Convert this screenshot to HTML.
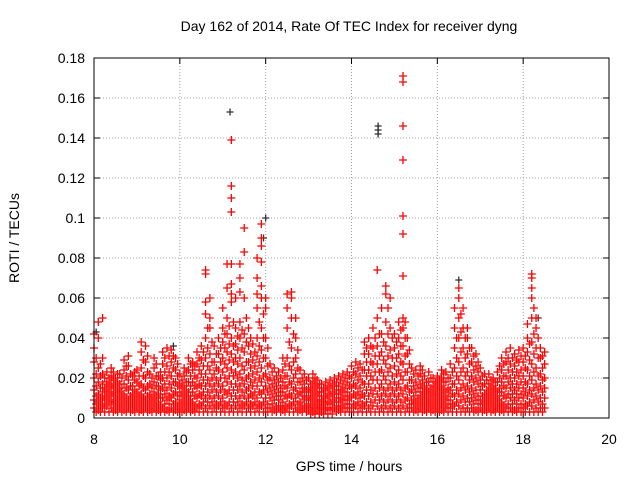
<!DOCTYPE html>
<html>
<head>
<meta charset="utf-8">
<style>
html,body{margin:0;padding:0;background:#fff;}
svg{display:block;font-family:"Liberation Sans",Arial,sans-serif;}
</style>
</head>
<body>
<svg id="chart" width="640" height="480" viewBox="0 0 640 480">
<rect x="0" y="0" width="640" height="480" fill="#fff"/>
<text x="349" y="31" font-size="14" text-anchor="middle" fill="#000">Day 162 of 2014, Rate Of TEC Index for receiver dyng</text>
<text x="349" y="471" font-size="14" text-anchor="middle" fill="#000">GPS time / hours</text>
<text x="19" y="238" font-size="14" text-anchor="middle" fill="#000" transform="rotate(-90 19 238)">ROTI / TECUs</text>
<g id="grid"></g>
<g id="ticks"></g>
<g id="marks"></g>
<rect x="94" y="58" width="515" height="360" fill="none" stroke="#000" stroke-width="1"/>
</svg>
<script>
const xTicks = [8,10,12,14,16,18,20];
const yTicks = [0,0.02,0.04,0.06,0.08,0.1,0.12,0.14,0.16,0.18];
const yTickLabels = ["0","0.02","0.04","0.06","0.08","0.1","0.12","0.14","0.16","0.18"];
// ROTI values (x 0.001 TECU/min) per time column (hours)
const redColumns = [
"8.0:5 9 14 20 28 35 42","8.1:4 8 12 18 25 40 48","8.2:5 9 13 17 22 30 50","8.3:6 10 14 18 23",
"8.4:5 9 13 17 21 25","8.5:4 8 12 16 20","8.6:5 9 13 17 22","8.7:4 8 12 17 24 29",
"8.8:5 9 14 19 26 31","8.9:4 8 12 16 21","9.0:5 9 13 18 24","9.1:4 8 12 17 25 33 38",
"9.2:5 9 14 20 28 36","9.3:4 8 12 17 22","9.4:5 9 13 18 25 30","9.5:4 8 12 16 21",
"9.6:5 10 15 20 27 33","9.7:4 9 14 20 26 35","9.8:5 10 15 21 28 34","9.9:4 8 13 18 24 30",
"10.0:5 9 13 17 22","10.1:4 8 12 16 21 25","10.2:5 9 13 18 24 30","10.3:4 8 13 18 24 28",
"10.4:5 10 15 20 27 33","10.5:6 11 16 22 29 36","10.6:5 10 16 22 30 40 52 58 72 74",
"10.7:6 11 17 24 32 45 50 60","10.8:5 10 16 22 28 36","10.9:6 11 17 24 32 40",
"11.0:5 10 16 23 30 38 45 55","11.1:6 12 18 25 33 42 50 65 77",
"11.2:5 11 17 24 32 40 58 62 67 77 103 110 116 139","11.3:6 11 17 23 30 37 45 60",
"11.4:5 10 16 22 30 40 48 63 70 77","11.5:6 11 17 24 33 42 60 83 95","11.6:5 10 15 21 28 36 45",
"11.7:6 11 16 22 29 37","11.8:5 10 16 23 31 40 55 62 70 80","11.9:6 12 18 25 34 45 60 66 78 86 90 97",
"12.0:5 10 16 22 30 40 55 60","12.1:5 10 15 20 27","12.2:4 9 14 19 25","12.3:5 9 13 18 23",
"12.4:4 8 13 18 24 30","12.5:5 10 15 21 30 45 55 62","12.6:6 11 17 24 35 50 60 63",
"12.7:5 10 15 22 30 40 50","12.8:4 8 13 18 24","12.9:5 9 13 17 22","13.0:4 7 11 15 20",
"13.1:3 6 10 14 18 22","13.2:4 7 11 15 19","13.3:3 6 9 13 17","13.4:4 7 10 14 18",
"13.5:4 7 11 15 19","13.6:5 8 12 16 20","13.7:4 8 12 16 21","13.8:5 9 13 17 22",
"13.9:5 9 13 18 23","14.0:5 10 15 20 26","14.1:6 11 16 22 28","14.2:5 10 15 21 27",
"14.3:6 11 17 24 32 38","14.4:5 11 17 24 32 40","14.5:6 12 19 27 35 45",
"14.6:6 12 19 27 36 50 74","14.7:5 11 17 24 33 42 55","14.8:6 12 19 27 36 48 62 66",
"14.9:5 11 17 25 34 45 60","15.0:6 12 18 26 35 42","15.1:5 11 17 24 32 40 48",
"15.2:6 12 19 27 36 45 50 71 92 101 129 146 168 171","15.3:5 10 16 23 32 40",
"15.4:5 9 14 19 25","15.5:4 8 13 18 24","15.6:5 9 13 17 22 26","15.7:4 8 12 16 21",
"15.8:5 9 13 18 23","15.9:4 8 12 16 20","16.0:5 9 13 17 21","16.1:4 8 12 16 20 24",
"16.2:5 9 13 18 23","16.3:5 9 14 20 27","16.4:6 11 17 25 35 45 55",
"16.5:6 12 19 28 40 50 60 65","16.6:5 11 17 25 35 45 55","16.7:5 10 16 23 32 40 45",
"16.8:5 10 15 21 28 35","16.9:4 9 14 20 26 32","17.0:5 9 14 19 25","17.1:4 8 12 17 22",
"17.2:5 9 13 17 22","17.3:4 8 12 16 20","17.4:5 9 13 18 23","17.5:4 8 13 18 24 30",
"17.6:5 10 15 21 28 33","17.7:5 10 15 20 27 35","17.8:4 9 14 20 26 32","17.9:5 10 15 21 28 34",
"18.0:5 10 15 21 28 35","18.1:6 11 17 24 33 40 47","18.2:6 12 19 27 38 50 60 65 70 72",
"18.3:5 11 17 25 35 45 50","18.4:5 10 16 22 30 35","18.5:5 10 15 20 27 33"
];
// additional samples between the columns above
const redColumnsB = [
"8.05:3 7 11 16 22 30","8.15:3 6 10 15 21 27","8.25:3 7 11 15 20","8.35:3 8 12 16 20",
"8.45:3 7 11 15 19 23","8.55:3 6 10 14 18 22","8.65:3 7 11 15 20","8.75:3 6 10 15 21 26",
"8.85:3 7 11 16 22","8.95:3 6 10 14 19 23","9.05:3 7 11 16 21","9.15:3 6 10 15 21 29",
"9.25:3 7 11 16 23 31","9.35:3 6 10 15 20","9.45:3 7 11 16 21 27","9.55:3 6 10 14 19 23",
"9.65:3 7 12 17 23 30","9.75:3 7 11 17 23 31","9.85:3 7 12 18 25 31","9.95:3 6 11 16 21 27",
"10.05:3 7 11 15 19","10.15:3 6 10 14 18 23","10.25:3 7 11 16 21 27","10.35:3 6 11 16 21 26",
"10.45:3 7 12 17 24 30","10.55:3 8 13 19 26 33","10.65:3 8 13 19 26 35 45",
"10.75:3 8 14 20 28 38","10.85:3 7 13 19 25 32","10.95:3 8 14 20 28 35",
"11.05:3 7 13 20 27 35 42","11.15:3 8 14 21 29 37 46","11.25:3 8 14 21 28 36 48",
"11.35:3 8 14 20 27 34 41","11.45:3 7 13 19 26 35 44","11.55:3 8 14 20 28 38 50",
"11.65:3 7 12 18 25 32 40","11.75:3 8 13 19 26 33","11.85:3 7 13 20 28 36 48",
"11.95:3 8 14 21 30 40 52","12.05:3 7 13 19 26 35","12.15:3 7 12 17 23",
"12.25:3 6 11 16 21","12.35:3 6 11 15 20","12.45:3 6 11 16 21 27","12.55:3 7 12 18 26 38",
"12.65:3 8 14 20 28 42","12.75:3 7 12 18 25 34","12.85:3 6 11 15 20","12.95:3 6 10 14 19",
"13.05:2 5 9 13 17","13.15:2 5 8 12 16 20","13.25:2 5 9 13 17","13.35:2 5 8 11 15",
"13.45:2 5 8 12 16","13.55:2 5 9 13 17","13.65:3 6 10 14 18","13.75:3 6 10 14 19",
"13.85:3 7 11 15 20","13.95:3 7 11 16 21","14.05:3 7 12 17 23","14.15:3 8 13 19 25",
"14.25:3 7 12 18 24","14.35:3 8 14 21 28 35","14.45:3 8 14 21 28 36","14.55:3 9 15 23 31 40",
"14.65:3 9 15 23 31 42","14.75:3 8 14 21 29 38","14.85:3 9 15 23 31 42 55",
"14.95:3 8 14 21 30 40","15.05:3 9 15 22 30 38","15.15:3 8 14 21 28 36 44",
"15.25:3 9 15 23 31 40 48","15.35:3 7 13 19 27 34","15.45:3 7 11 16 22",
"15.55:3 6 10 15 21","15.65:3 7 11 15 19 24","15.75:3 6 10 14 18","15.85:3 7 11 15 20",
"15.95:3 6 10 14 18","16.05:3 7 11 15 19","16.15:3 6 10 14 18 22","16.25:3 7 11 15 20",
"16.35:3 7 12 17 23","16.45:3 8 14 21 30 40","16.55:3 9 15 23 33 43 52",
"16.65:3 8 14 21 30 40","16.75:3 8 13 19 27 35","16.85:3 7 12 18 24 31",
"16.95:3 7 11 17 23 28","17.05:3 7 11 16 21","17.15:3 6 10 14 19","17.25:3 7 11 15 19",
"17.35:3 6 10 14 18","17.45:3 7 11 15 20 26","17.55:3 6 11 16 21 27","17.65:3 7 12 18 24 30",
"17.75:3 7 12 17 23 30","17.85:3 7 12 17 23 29","17.95:3 7 12 18 24 31",
"18.05:3 7 13 18 25 31","18.15:3 8 14 21 29 37","18.25:3 9 15 23 32 42 55",
"18.35:3 8 14 21 30 40","18.45:3 7 13 19 25 31"
];
const darkTimes = [11.17, 11.95, 12.0, 14.62, 14.62, 14.62, 16.5, 9.85, 8.05, 18.35];
const darkValues = [0.153, 0.090, 0.100, 0.142, 0.144, 0.146, 0.069, 0.036, 0.043, 0.050];

const X0=94, X1=609, Y0=418, Y1=58;
function xs(t){return X0+(t-8)/(20-8)*(X1-X0);}
function ys(v){return Y0-(v/0.18)*(Y0-Y1);}
const NS="http://www.w3.org/2000/svg";
const grid=document.getElementById('grid'), ticks=document.getElementById('ticks'), marks=document.getElementById('marks');
function mk(tag,attrs,parent){const e=document.createElementNS(NS,tag);for(const k in attrs)e.setAttribute(k,attrs[k]);parent.appendChild(e);return e;}

xTicks.forEach((t,i)=>{
  const x=xs(t);
  if(i>0&&i<xTicks.length-1){
    const g=mk('line',{x1:x,y1:Y0,x2:x,y2:Y1,stroke:'#a0a0a0','stroke-width':1,'stroke-dasharray':'1,2'},grid);
    
    
  }
  const a=mk('line',{x1:x,y1:Y0,x2:x,y2:Y0-6,stroke:'#000'},ticks);
  
  
  const b=mk('line',{x1:x,y1:Y1,x2:x,y2:Y1+6,stroke:'#000'},ticks);
  
  
  const l=mk('text',{x:x,y:Y0+26,'font-size':14,'text-anchor':'middle',fill:'#000'},ticks);
  l.textContent=String(t);
  
  
});
yTicks.forEach((v,i)=>{
  const y=ys(v);
  if(i>0&&i<yTicks.length-1){
    const g=mk('line',{x1:X0,y1:y,x2:X1,y2:y,stroke:'#a0a0a0','stroke-width':1,'stroke-dasharray':'1,2'},grid);
    
    
  }
  const a=mk('line',{x1:X0,y1:y,x2:X0+6,y2:y,stroke:'#000'},ticks);
  
  
  const b=mk('line',{x1:X1,y1:y,x2:X1-6,y2:y,stroke:'#000'},ticks);
  
  
  const l=mk('text',{x:X0-9,y:y+5,'font-size':14,'text-anchor':'end',fill:'#000'},ticks);
  l.textContent=yTickLabels[i];
  
  
});
function plus(x,y,color,r,name){
  const p=mk('path',{d:`M${x-r},${y}H${x+r}M${x},${y-r}V${y+r}`,stroke:color,'stroke-width':1.3,fill:'none'},marks);
  
  
}
darkTimes.forEach((t,i)=>plus(xs(t),ys(darkValues[i]),'#303030',3.5,'dark-point'));
function drawColumns(cols){
  cols.forEach(col=>{
    const [ts,vs]=col.split(':');
    const t=parseFloat(ts);
    vs.split(' ').map(Number).forEach(v=>{
      plus(xs(t),ys(v/1000),'#ff0000',4,'roti-point');
    });
  });
}
drawColumns(redColumnsB);
drawColumns(redColumns);
</script>
</body>
</html>
